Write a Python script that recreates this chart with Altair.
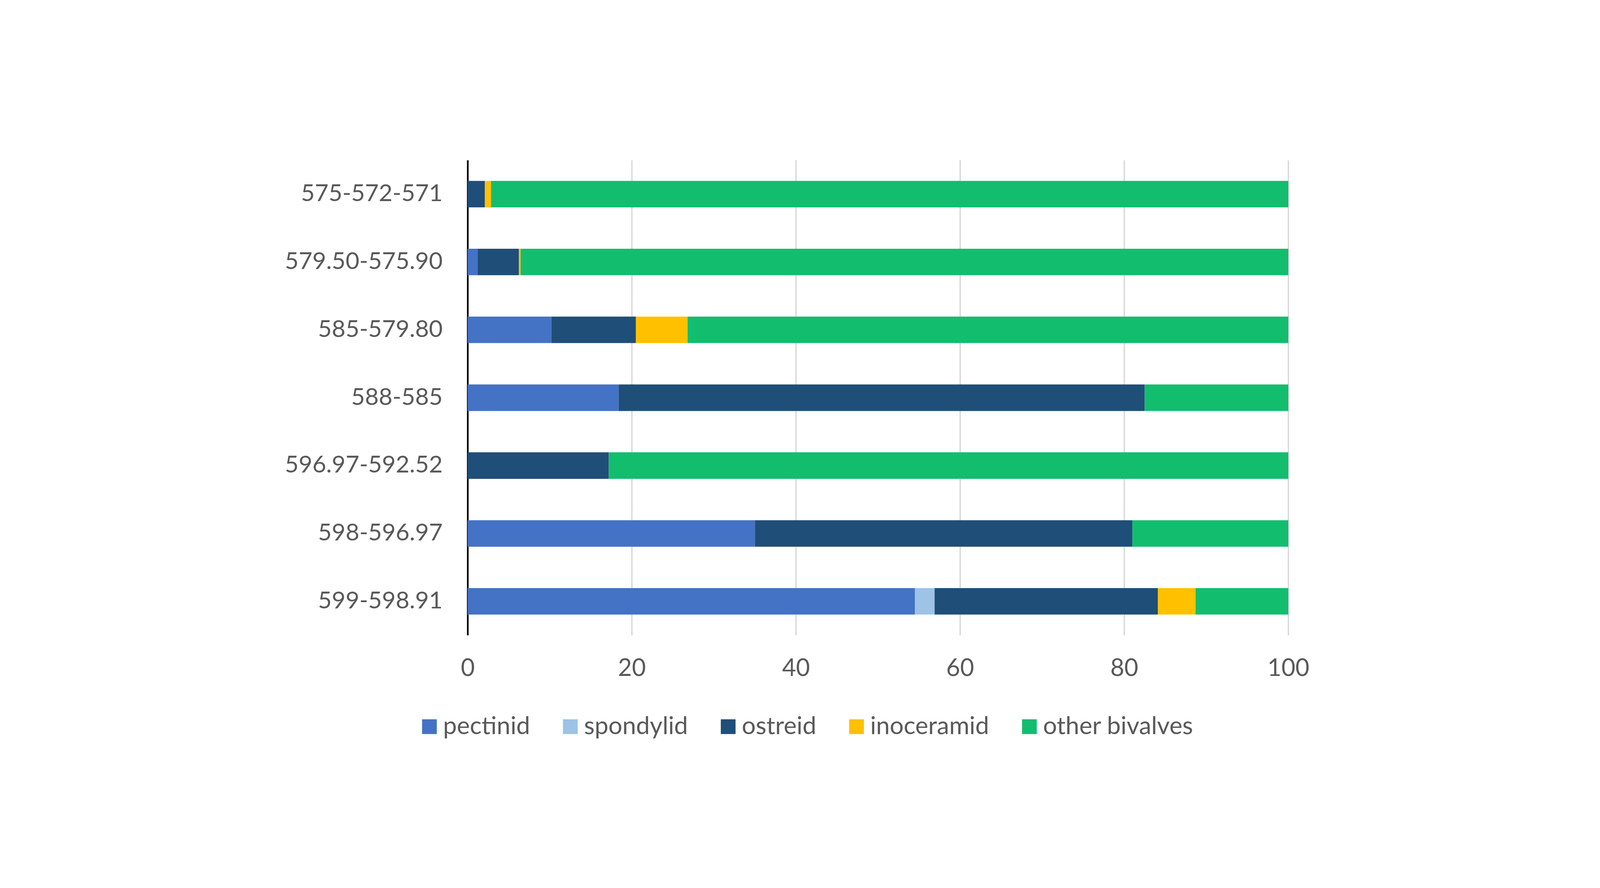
import altair as alt
import pandas as pd

intervals = ["575-572-571", "579.50-575.90", "585-579.80", "588-585",
             "596.97-592.52", "598-596.97", "599-598.91"]
groups = ["pectinid", "spondylid", "ostreid", "inoceramid", "other bivalves"]
colors = ["#4472C4", "#9DC3E6", "#1F4E79", "#FFC000", "#12BD6E"]

pectinid = [0.0, 1.2, 10.2, 18.4, 0.0, 35.0, 54.5]
spondylid = [0.0, 0.0, 0.0, 0.0, 0.0, 0.0, 2.4]
ostreid = [2.1, 5.05, 10.3, 64.1, 17.2, 46.0, 27.2]
inoceramid = [0.75, 0.2, 6.3, 0.0, 0.0, 0.0, 4.6]
other = [97.15, 93.55, 73.2, 17.5, 82.8, 19.0, 11.3]

series = [pectinid, spondylid, ostreid, inoceramid, other]
rows = []
for gi, (g, vals) in enumerate(zip(groups, series)):
    for iv, v in zip(intervals, vals):
        rows.append({"interval": iv, "group": g, "value": v, "order": gi})
df = pd.DataFrame(rows)

FONT = "Lato"
TXT = "#595959"

chart = alt.Chart(df).mark_bar(size=97).encode(
    x=alt.X("value:Q", stack="zero",
            scale=alt.Scale(domain=[0, 100], nice=False),
            axis=alt.Axis(values=[0, 20, 40, 60, 80, 100], title=None,
                          domain=False, ticks=False, grid=True,
                          gridColor="#D9D9D9", gridWidth=5,
                          labelFlush=False,
                          labelFont=FONT, labelFontSize=88, labelColor=TXT,
                          labelPadding=78)),
    y=alt.Y("interval:N", sort=intervals,
            scale=alt.Scale(paddingInner=0, paddingOuter=0),
            axis=alt.Axis(title=None, ticks=False, grid=False,
                          domain=True, domainColor="#000000", domainWidth=6,
                          labelFont=FONT, labelFontSize=87, labelColor=TXT,
                          labelPadding=92, labelLimit=2000)),
    color=alt.Color("group:N", sort=groups,
                    scale=alt.Scale(domain=groups, range=colors),
                    legend=alt.Legend(title=None, orient="none",
                                      direction="horizontal",
                                      legendX=-185, legendY=2030,
                                      symbolType="square", symbolSize=2916,
                                      symbolStrokeWidth=0,
                                      labelFont=FONT, labelFontSize=90,
                                      labelColor=TXT, labelOffset=5,
                                      columnPadding=102, labelLimit=2000)),
    order=alt.Order("order:Q", sort="ascending"),
).properties(
    width=3005, height=1740,
    autosize=alt.AutoSizeParams(type="none"),
    padding={"left": 1701, "top": 91, "right": 1130, "bottom": 420},
).configure_view(stroke=None)

chart.save("out.html", embed_options={"renderer": "svg", "actions": False})
